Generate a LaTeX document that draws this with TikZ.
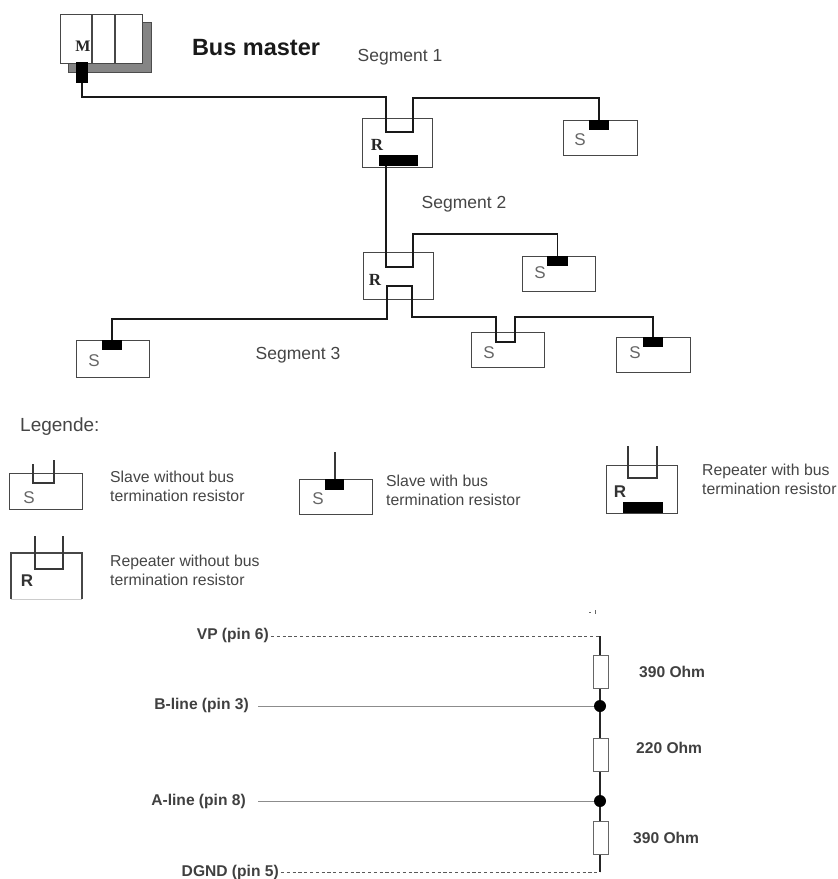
\documentclass[tikz,border=0pt]{standalone}
\usepackage{fontspec}
\setmainfont{Liberation Sans}
\newfontfamily\serifbf[BoldFont=Liberation Serif Bold]{Liberation Serif}
\definecolor{txt}{gray}{0.27}
\definecolor{shade}{gray}{0.52}
\begin{document}
\begin{tikzpicture}[x=1pt,y=-1pt,
  devbox/.style={draw=black!72,line width=1.4pt,fill=white,inner sep=0pt,anchor=north west},
  shadowbox/.style={draw=black!70,line width=1pt,fill=shade,inner sep=0pt,anchor=north west},
  term/.style={fill=black,draw=none,inner sep=0pt,anchor=north west},
  bus/.style={draw=black!90,line width=1.5pt,line join=miter},
  lgline/.style={draw=black!78,line width=1.3pt},
  rbox/.style={draw=black!60,line width=1pt,fill=white,inner sep=0pt,anchor=north west,minimum width=14.5pt},
  feed/.style={draw=black!45,line width=1pt},
  dashline/.style={draw=black!65,line width=0.7pt,dash pattern=on 3.2pt off 2.6pt},
  vert/.style={draw=black!85,line width=1.3pt},
  seg/.style={text=txt,font=\fontsize{17.5}{20}\selectfont,inner sep=0pt},
  sl/.style={text=black!60,font=\fontsize{17}{20}\selectfont,inner sep=0pt},
  rl/.style={text=black!85,font=\serifbf\bfseries\fontsize{17}{20}\selectfont,inner sep=0pt},
  rs/.style={text=black!80,font=\bfseries\fontsize{17}{20}\selectfont,inner sep=0pt},
  lg/.style={text=txt,font=\fontsize{15.8}{19}\selectfont,inner sep=0pt,anchor=west,align=left},
  sch/.style={text=black!75,font=\bfseries\fontsize{15.6}{18}\selectfont,inner sep=0pt},
  dotn/.style={circle,fill=black,inner sep=0pt,minimum size=12pt}]
\useasboundingbox (0,0) rectangle (838,879);

% Bus master
\node[shadowbox,minimum width=83pt,minimum height=50pt] (mshadow) at (68,22) {};
\node[devbox,minimum width=82pt,minimum height=49pt] (master) at (60,14) {};
\coordinate (d1t) at (92,14); \coordinate (d1b) at (92,63);
\coordinate (d2t) at (115,14); \coordinate (d2b) at (115,63);
\draw[draw=black!72,line width=1.4pt] (d1t) -- (d1b) (d2t) -- (d2b);
\node[rl,font=\serifbf\bfseries\fontsize{16}{18}\selectfont] (mlabel) at (83,46) {M};
\node[term,minimum width=12pt,minimum height=21pt] (mterm) at (76,62) {};
\node[inner sep=0pt,text=black!90,font=\bfseries\fontsize{23.5}{26}\selectfont] (bm) at (256,48) {Bus master};

% Segment labels
\node[seg] (seg1) at (400,57) {Segment 1};
\node[seg] (seg2) at (464,204) {Segment 2};
\node[seg] (seg3) at (298,355) {Segment 3};

% Devices
\node[devbox,minimum width=70pt,minimum height=49pt] (r1) at (362,118) {};
\node[rl] (r1l) at (377,145) {R};
\node[term,minimum width=39pt,minimum height=11pt] (r1t) at (379,155) {};
\node[devbox,minimum width=74pt,minimum height=35pt] (s1) at (563,120) {};
\node[term,minimum width=20pt,minimum height=10pt] (s1t) at (589,120) {};
\node[sl] (s1l) at (580,140) {S};
\node[devbox,minimum width=70pt,minimum height=47pt] (r2) at (363,252) {};
\node[rl] (r2l) at (375,280) {R};
\node[devbox,minimum width=73pt,minimum height=35pt] (s2) at (522,256) {};
\node[term,minimum width=21pt,minimum height=10pt] (s2t) at (547,256) {};
\node[sl] (s2l) at (540,273) {S};
\node[devbox,minimum width=73pt,minimum height=37pt] (s3) at (76,340) {};
\node[term,minimum width=20pt,minimum height=10pt] (s3t) at (102,340) {};
\node[sl] (s3l) at (94,361) {S};
\node[devbox,minimum width=73pt,minimum height=35pt] (s4) at (471,332) {};
\node[sl] (s4l) at (489,353) {S};
\node[devbox,minimum width=74pt,minimum height=35pt] (s5) at (616,337) {};
\node[term,minimum width=20pt,minimum height=10pt] (s5t) at (643,337) {};
\node[sl] (s5l) at (635,353) {S};

% Bus lines
\coordinate (a1) at (386,97); \coordinate (a2) at (386,132);
\coordinate (a3) at (413,132); \coordinate (a4) at (413,98);
\coordinate (b1) at (386,267); \coordinate (b2) at (413,267);
\coordinate (b3) at (413,234);
\coordinate (c1) at (387,286); \coordinate (c2) at (412,286);
\coordinate (c3) at (387,319); \coordinate (c4) at (412,317);
\coordinate (e1) at (496,317); \coordinate (e2) at (496,342);
\coordinate (e3) at (515,342); \coordinate (e4) at (515,317);
\draw[bus] (mterm.south) |- (a1) -- (a2) -- (a3) -- (a4) -| (s1t.north);
\draw[bus] (a2 |- r1t.south) -- (b1) -- (b2) -- (b3) -| (s2t.north);
\draw[bus] (s3t.north) |- (c3) -- (c1) -- (c2) -- (c4) -- (e1) -- (e2) -- (e3) -- (e4) -| (s5t.north);

% Legend
\node[lg,font=\fontsize{19}{22}\selectfont] (lgd) at (20,427) {Legende:};

\node[devbox,minimum width=73pt,minimum height=36pt] (l1) at (9,473) {};
\coordinate (l1a) at (33,464); \coordinate (l1b) at (33,483);
\coordinate (l1c) at (54,483); \coordinate (l1d) at (54,460);
\draw[lgline] (l1a) -- (l1b) -- (l1c) -- (l1d);
\node[sl] (l1s) at (29,498) {S};
\node[lg,anchor=north west] (l1x) at (110,471) {Slave without bus\\termination resistor};

\node[devbox,minimum width=73pt,minimum height=35pt] (l2) at (299,479) {};
\node[term,minimum width=19pt,minimum height=11pt] (l2t) at (325,479) {};
\coordinate (l2a) at (335,452);
\draw[lgline] (l2a) -- (l2a |- l2t.north);
\node[sl] (l2s) at (318,499) {S};
\node[lg,anchor=north west] (l2x) at (386,475) {Slave with bus\\termination resistor};

\node[devbox,minimum width=71pt,minimum height=48pt] (l3) at (606,465) {};
\coordinate (l3a) at (628,446); \coordinate (l3b) at (628,478);
\coordinate (l3c) at (657,478); \coordinate (l3d) at (657,446);
\draw[lgline] (l3a) -- (l3b) -- (l3c) -- (l3d);
\node[rs] (l3r) at (620,492) {R};
\node[term,minimum width=40pt,minimum height=11pt] (l3t) at (623,502) {};
\node[lg,anchor=north west] (l3x) at (702,464) {Repeater with bus\\termination resistor};

\coordinate (l4nw) at (11,553); \coordinate (l4ne) at (82,553);
\coordinate (l4sw) at (11,599); \coordinate (l4se) at (82,599);
\draw[draw=black!20,line width=0.8pt] (l4sw) -- (l4se);
\draw[draw=black!72,line width=1.4pt] (l4sw) -- (l4nw) -- (l4ne) -- (l4se);
\coordinate (l4a) at (35,536); \coordinate (l4b) at (35,569);
\coordinate (l4c) at (63,569); \coordinate (l4d) at (63,536);
\draw[lgline] (l4a) -- (l4b) -- (l4c) -- (l4d);
\node[rs] (l4r) at (27,581) {R};
\node[lg,anchor=north west] (l4x) at (110,555) {Repeater without bus\\termination resistor};

% Stray marks
\coordinate (t1a) at (589,612); \coordinate (t1b) at (591,612);
\coordinate (t2a) at (595,610); \coordinate (t2b) at (595,614);
\draw[draw=black!60,line width=0.6pt] (t1a) -- (t1b) (t2a) -- (t2b);

% Termination schematic
\coordinate (top) at (600,636); \coordinate (bot) at (600,872);
\node[sch,anchor=east] (vp) at (269,635) {VP (pin 6)};
\node[sch,anchor=east] (bl) at (249,705) {B-line (pin 3)};
\node[sch,anchor=east] (al) at (246,801) {A-line (pin 8)};
\node[sch,anchor=east] (dg) at (279,872) {DGND (pin 5)};
\draw[vert] (top) -- (bot);
\node[rbox,minimum height=33pt] (r390a) at (593,655) {};
\node[rbox,minimum height=33pt] (r220) at (593,738) {};
\node[rbox,minimum height=33pt] (r390b) at (593,821) {};
\draw[dashline] (vp.east) ++(2,1) -- (top);
\draw[dashline] (dg.east) ++(2,0) -- (bot);
\node[dotn] (db) at (600,706) {};
\node[dotn] (da) at (600,801) {};
\draw[feed] (bl.east) ++(9,1) -- (db.west);
\draw[feed] (al.east) ++(12,0) -- (da.west);
\node[sch,anchor=west] (v1) at (639,672) {390 Ohm};
\node[sch,anchor=west] (v2) at (636,748) {220 Ohm};
\node[sch,anchor=west] (v3) at (633,838) {390 Ohm};
\end{tikzpicture}
\end{document}
